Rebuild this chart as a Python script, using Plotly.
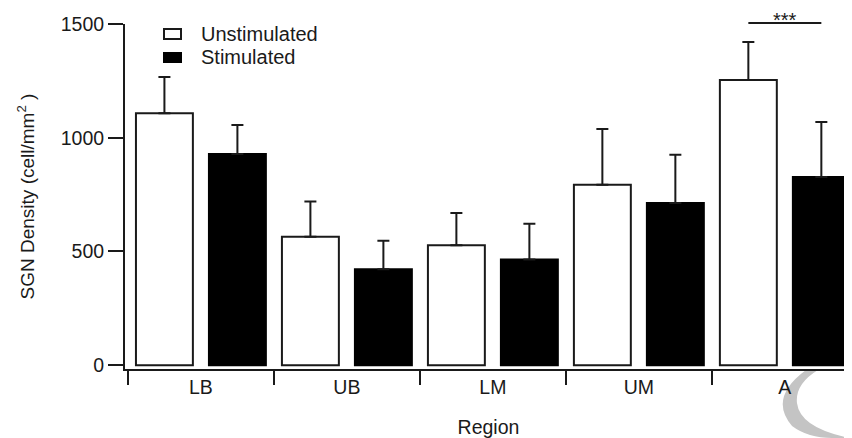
import plotly.graph_objects as go

regions = ["LB", "UB", "LM", "UM", "A"]
unstim = [1108, 564, 527, 793, 1254]
unstim_err = [159, 156, 142, 245, 167]
stim = [928, 422, 465, 713, 827]
stim_err = [128, 125, 157, 212, 242]
y_ticks = [0, 500, 1000, 1500]

# the page body adds an 8px margin, so the figure is 8px smaller than the window
OFF = 8
W, H = 852 - OFF, 438 - OFF
L, R, T, B = 125 - OFF, 0, 24 - OFF, 69
PW, PH = W - L - R, H - T - B
FONT = "Liberation Sans, Arial, sans-serif"
INK = "#1a1a1a"

def px(x):
    """screen x -> paper"""
    return (x - OFF - L) / PW

def py(y):
    """screen y -> paper"""
    return (H - B - (y - OFF)) / PH

fig = go.Figure()
fig.add_trace(go.Bar(
    x=regions, y=unstim, name="Unstimulated",
    marker=dict(color="white", line=dict(color=INK, width=2)),
    error_y=dict(type="data", symmetric=False, array=unstim_err,
                 arrayminus=[0] * len(unstim), color=INK, thickness=2, width=6),
    showlegend=False,
))
fig.add_trace(go.Bar(
    x=regions, y=stim, name="Stimulated",
    marker=dict(color="black", line=dict(color="black", width=2)),
    error_y=dict(type="data", symmetric=False, array=stim_err,
                 arrayminus=[0] * len(stim), color=INK, thickness=2, width=6),
    showlegend=False,
))

shapes = []
annotations = []

# manual legend
shapes.append(dict(type="rect", xref="paper", yref="paper",
                   x0=px(164), x1=px(181), y0=py(39), y1=py(29),
                   line=dict(color=INK, width=2), fillcolor="white"))
shapes.append(dict(type="rect", xref="paper", yref="paper",
                   x0=px(163), x1=px(182), y0=py(63), y1=py(52),
                   line=dict(color="black", width=0), fillcolor="black"))
annotations.append(dict(text="Unstimulated", xref="paper", yref="paper",
                        x=px(199), y=py(34), xanchor="left", yanchor="middle",
                        showarrow=False, font=dict(family=FONT, size=20, color=INK)))
annotations.append(dict(text="Stimulated", xref="paper", yref="paper",
                        x=px(199), y=py(57), xanchor="left", yanchor="middle",
                        showarrow=False, font=dict(family=FONT, size=20, color=INK)))

# significance bar between the two A bars
shapes.append(dict(type="line", xref="x", yref="paper",
                   x0=3.75, x1=4.25, y0=py(23), y1=py(23),
                   line=dict(color=INK, width=2)))
annotations.append(dict(text="***", xref="x", yref="paper",
                        x=4.0, y=py(OFF), xanchor="center", yanchor="top",
                        borderpad=0,
                        showarrow=False, font=dict(family=FONT, size=20, color=INK)))

# faint watermark crescent
path = ("M {:.4f},{:.4f} Q {:.4f},{:.4f} {:.4f},{:.4f} Q {:.4f},{:.4f} {:.4f},{:.4f} "
        "L {:.4f},{:.4f} Q {:.4f},{:.4f} {:.4f},{:.4f} Q {:.4f},{:.4f} {:.4f},{:.4f} Z").format(
    px(806), py(370), px(768), py(398), px(792), py(426),
    px(808), py(438), px(832), py(438),
    px(850), py(438), px(800), py(428), px(797), py(403),
    px(795), py(384), px(818), py(370))
shapes.append(dict(type="path", xref="paper", yref="paper", path=path,
                   fillcolor="#c4c4c4", line=dict(width=0), layer="below"))

fig.update_layout(
    width=W, height=H,
    margin=dict(l=L, r=R, t=T, b=B, pad=0, autoexpand=False),
    paper_bgcolor="white", plot_bgcolor="rgba(0,0,0,0)",
    barmode="group", bargap=0.0, bargroupgap=0.22,
    font=dict(family=FONT, size=19, color=INK),
    shapes=shapes, annotations=annotations,
    showlegend=False,
)
fig.update_xaxes(
    type="category", range=[-0.52, 4.46], automargin=False,
    showline=True, linecolor=INK, linewidth=2,
    ticks="outside", ticklen=14, tickwidth=2, tickcolor=INK,
    tickson="boundaries", showgrid=False, zeroline=False,
    tickfont=dict(family=FONT, size=19.5, color=INK),
    title=dict(text="Region", font=dict(family=FONT, size=19.5, color=INK), standoff=26),
)
fig.update_yaxes(
    range=[-17, 1500], tickvals=y_ticks, automargin=False,
    showline=True, linecolor=INK, linewidth=2,
    ticks="outside", ticklen=15, tickwidth=2, tickcolor=INK,
    showgrid=False, zeroline=False,
    tickfont=dict(family=FONT, size=19.5, color=INK),
    title=dict(text="SGN Density (cell/mm<sup>2</sup> )",
               font=dict(family=FONT, size=19, color=INK), standoff=21),
)

fig.write_html("out.html")
